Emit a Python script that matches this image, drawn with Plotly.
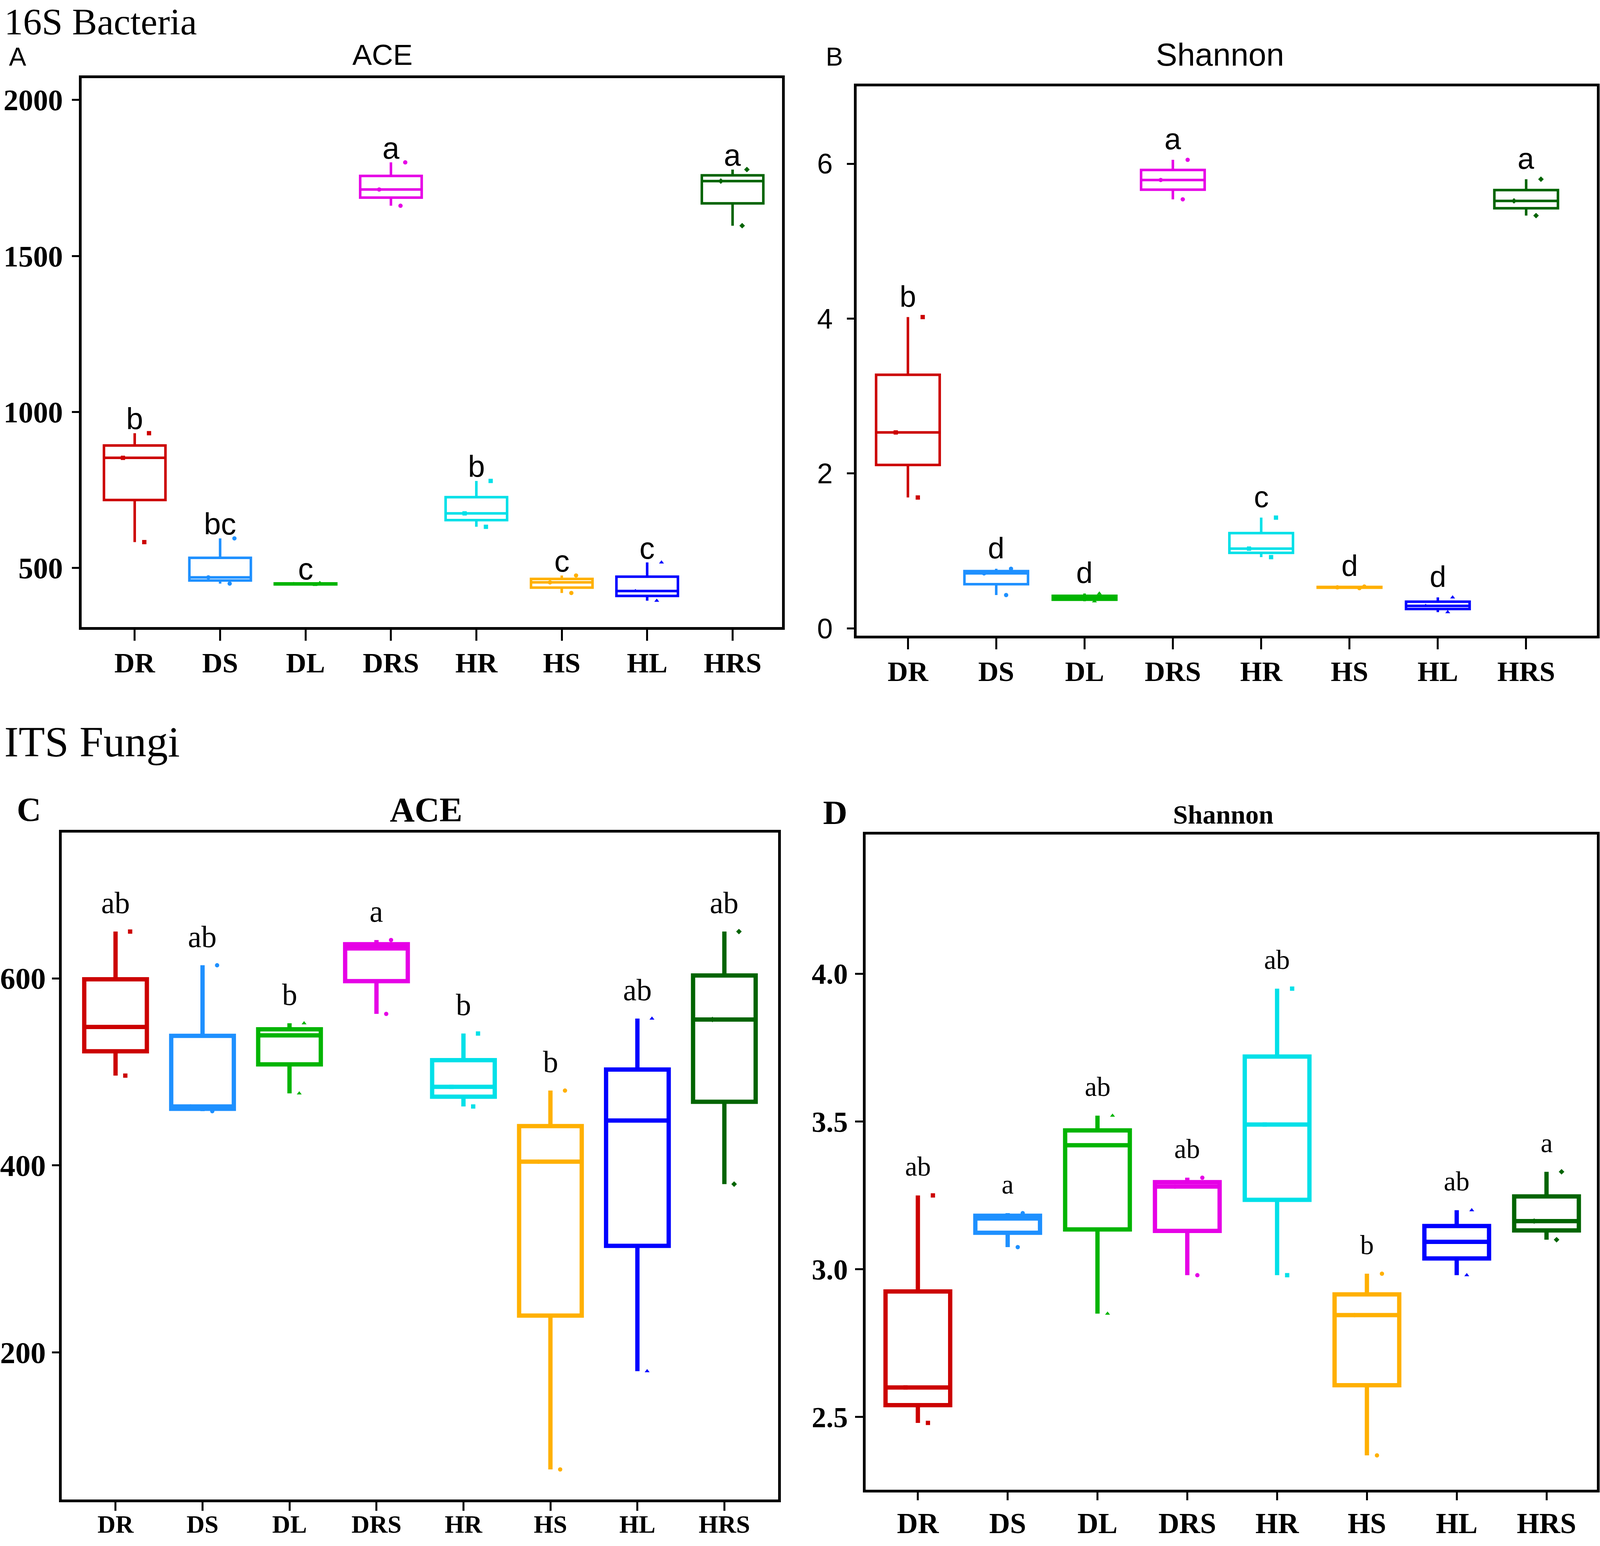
import plotly.graph_objects as go

# ---------------- data ----------------
groups = ["DR", "DS", "DL", "DRS", "HR", "HS", "HL", "HRS"]
group_colors = ["#CC0000", "#1E90FF", "#00B400", "#E600E6",
                "#00E0E8", "#FFB000", "#0000FF", "#006400"]
group_symbols = ["square", "circle", "triangle-up", "circle",
                 "square", "circle", "triangle-up", "diamond"]

# 16S Bacteria, ACE (3 replicates per group)
bact_ace = [[583, 853, 932], [450, 470, 595], [446, 449, 452], [1661, 1713, 1800],
            [632, 675, 779], [420, 454, 476], [395, 426, 518], [1597, 1740, 1777]]
bact_ace_letters = ["b", "bc", "c", "a", "b", "c", "c", "a"]

# 16S Bacteria, Shannon
bact_shannon = [[1.69, 2.53, 4.02], [0.43, 0.71, 0.77], [0.35, 0.39, 0.45], [5.54, 5.79, 6.05],
                [0.92, 1.03, 1.43], [0.52, 0.53, 0.54], [0.21, 0.29, 0.40], [5.33, 5.52, 5.80]]
bact_shannon_letters = ["b", "d", "d", "a", "c", "d", "d", "a"]

# ITS Fungi, ACE
fungi_ace = [[496, 548, 650], [458, 463, 614], [477, 539, 552], [562, 632, 641],
             [463, 484, 541], [75, 404, 480], [180, 448, 557], [380, 556, 650]]
fungi_ace_letters = ["ab", "ab", "b", "a", "b", "b", "ab", "ab"]

# ITS Fungi, Shannon
fungi_shannon = [[2.48, 2.60, 3.25], [3.075, 3.172, 3.19], [2.85, 3.42, 3.52], [2.98, 3.28, 3.31],
                 [2.98, 3.49, 3.95], [2.37, 2.845, 2.985], [2.98, 3.093, 3.20], [3.10, 3.163, 3.33]]
fungi_shannon_letters = ["ab", "a", "ab", "ab", "ab", "b", "ab", "a"]

bact_ace_ticks = [500, 1000, 1500, 2000]
bact_shannon_ticks = [0, 2, 4, 6]
fungi_ace_ticks = [200, 400, 600]
fungi_shannon_ticks = [2.5, 3.0, 3.5, 4.0]

# ---------------- styling ----------------
SANS = "Liberation Sans"
SERIF = "Liberation Serif"
# the browser viewport is 4096 px wide, so the whole figure is fitted to it
W, H = 4096, 3957

panels = [
    dict(data=bact_ace, letters=bact_ace_letters, ticks=bact_ace_ticks, fmt="d",
         xd=[0.049, 0.4877], yd=[0.5921, 0.9492], yr=[310, 2070], xr=[-0.62, 7.58],
         lw=6.5, ytf=dict(family=SERIF, size=76, weight="bold"),
         xtf=dict(family=SERIF, size=72, weight="bold"),
         letf=dict(family=SANS, size=78), pad=0.026,
         xtl=28, xso=-6, ytl=18, yso=8),
    dict(data=bact_shannon, letters=bact_shannon_letters, ticks=bact_shannon_ticks, fmt="d",
         xd=[0.5344, 0.998], yd=[0.5866, 0.9439], yr=[-0.095, 7.0], xr=[-0.58, 7.8],
         lw=6.5, ytf=dict(family=SANS, size=72),
         xtf=dict(family=SERIF, size=72, weight="bold"),
         letf=dict(family=SANS, size=76), pad=0.038,
         xtl=28, xso=-6, ytl=18, yso=22),
    dict(data=fungi_ace, letters=fungi_ace_letters, ticks=fungi_ace_ticks, fmt="d",
         xd=[0.0364, 0.4853], yd=[0.0250, 0.4587], yr=[43, 756], xr=[-0.62, 7.62],
         lw=11, ytf=dict(family=SERIF, size=78, weight="bold"),
         xtf=dict(family=SERIF, size=64, weight="bold"),
         letf=dict(family=SERIF, size=78), pad=0.043,
         xtl=22, xso=-20, ytl=18, yso=0),
    dict(data=fungi_shannon, letters=fungi_shannon_letters, ticks=fungi_shannon_ticks, fmt=".1f",
         xd=[0.5401, 0.998], yd=[0.0313, 0.4574], yr=[2.254, 4.472], xr=[-0.58, 7.56],
         lw=11, ytf=dict(family=SERIF, size=74, weight="bold"),
         xtf=dict(family=SERIF, size=74, weight="bold"),
         letf=dict(family=SERIF, size=70), pad=0.044,
         xtl=20, xso=-5, ytl=20, yso=4),
]

fig = go.Figure()
annotations = []
layout = {}

for pi, p in enumerate(panels):
    sfx = "" if pi == 0 else str(pi + 1)
    xa, ya = "x" + sfx, "y" + sfx
    yspan = p["yr"][1] - p["yr"][0]
    for gi, g in enumerate(groups):
        vals = p["data"][gi]
        fig.add_trace(go.Box(
            x=[g] * len(vals), y=vals, xaxis=xa, yaxis=ya,
            name=g, showlegend=False, width=0.72, whiskerwidth=0,
            quartilemethod="inclusive",
            boxpoints="all", jitter=0.6, pointpos=0,
            fillcolor="rgba(255,255,255,0)",
            line=dict(color=group_colors[gi], width=p["lw"]),
            marker=dict(color=group_colors[gi], size=11, symbol=group_symbols[gi]),
        ))
        annotations.append(dict(
            x=g, y=max(vals) + p["pad"] * yspan, xref=xa, yref=ya,
            text=p["letters"][gi], showarrow=False, yanchor="middle",
            font=dict(color="black", **p["letf"])))
    common = dict(showline=True, linecolor="black", linewidth=7, mirror=True,
                  showgrid=False, zeroline=False, ticks="outside",
                  tickcolor="black", tickwidth=5)
    layout["xaxis" + sfx] = dict(domain=p["xd"], anchor=ya, type="category",
                                 categoryorder="array", categoryarray=groups,
                                 range=p["xr"], ticklen=p["xtl"], ticklabelstandoff=p["xso"],
                                 tickfont=dict(color="black", **p["xtf"]), **common)
    layout["yaxis" + sfx] = dict(domain=p["yd"], anchor=xa, range=p["yr"],
                                 tickvals=p["ticks"], tickformat=p["fmt"], ticklen=p["ytl"],
                                 ticklabelstandoff=p["yso"],
                                 tickfont=dict(color="black", **p["ytf"]), **common)

# titles, panel letters, section headings
def txt(x, y, s, font, xanchor="center", yanchor="middle"):
    annotations.append(dict(x=x, y=y, xref="paper", yref="paper", text=s, showarrow=False,
                            xanchor=xanchor, yanchor=yanchor, font=dict(color="black", **font)))

txt(0.0, 1.0, "16S Bacteria", dict(family=SERIF, size=96), xanchor="left", yanchor="top")
txt(0.0, 0.5175, "ITS Fungi", dict(family=SERIF, size=110), xanchor="left")
txt(0.0089, 0.9632, "A", dict(family=SANS, size=66))
txt(0.2373, 0.9645, "ACE", dict(family=SANS, size=75))
txt(0.5204, 0.9632, "B", dict(family=SANS, size=66))
txt(0.762, 0.9645, "Shannon", dict(family=SANS, size=82))
txt(0.016, 0.4735, "C", dict(family=SERIF, size=86, weight="bold"))
txt(0.2647, 0.4735, "ACE", dict(family=SERIF, size=88, weight="bold"))
txt(0.521, 0.4716, "D", dict(family=SERIF, size=86, weight="bold"))
txt(0.7639, 0.4703, "Shannon", dict(family=SERIF, size=68, weight="bold"))

fig.update_layout(width=W, height=H, margin=dict(l=0, r=0, t=0, b=0),
                  paper_bgcolor="white", plot_bgcolor="white",
                  boxmode="overlay", annotations=annotations, **layout)

fig.write_html("out.html", config={"displayModeBar": False},
               post_script="document.body.style.margin='0px';")
